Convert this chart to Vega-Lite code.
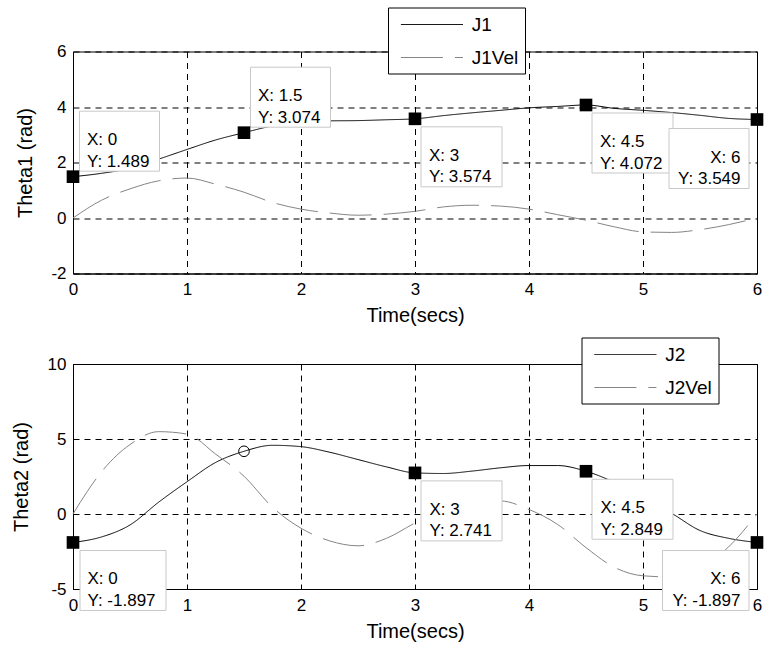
{
  "$schema": "https://vega.github.io/schema/vega-lite/v6.json",
  "background": "white",
  "padding": {"left": 11, "top": 6.5, "right": 5, "bottom": 5},
  "spacing": 9.5,
  "resolve": {"scale": {"color": "independent", "strokeDash": "independent"}, "legend": {"color": "independent", "strokeDash": "independent"}},
  "datasets": {
    "c1": [
      {"t": 0, "v": 1.489, "s": "J1"}, {"t": 0.25, "v": 1.61, "s": "J1"}, {"t": 0.5, "v": 1.79, "s": "J1"}, {"t": 0.75, "v": 2.12, "s": "J1"}, {"t": 1, "v": 2.47, "s": "J1"}, {"t": 1.25, "v": 2.81, "s": "J1"}, {"t": 1.5, "v": 3.074, "s": "J1"}, {"t": 1.75, "v": 3.32, "s": "J1"}, {"t": 2, "v": 3.47, "s": "J1"}, {"t": 2.25, "v": 3.5, "s": "J1"}, {"t": 2.5, "v": 3.51, "s": "J1"}, {"t": 2.75, "v": 3.54, "s": "J1"}, {"t": 3, "v": 3.574, "s": "J1"}, {"t": 3.25, "v": 3.69, "s": "J1"}, {"t": 3.5, "v": 3.79, "s": "J1"}, {"t": 3.75, "v": 3.88, "s": "J1"}, {"t": 4, "v": 3.97, "s": "J1"}, {"t": 4.25, "v": 4.02, "s": "J1"}, {"t": 4.5, "v": 4.072, "s": "J1"}, {"t": 4.75, "v": 3.95, "s": "J1"}, {"t": 5, "v": 3.88, "s": "J1"}, {"t": 5.25, "v": 3.8, "s": "J1"}, {"t": 5.5, "v": 3.7, "s": "J1"}, {"t": 5.75, "v": 3.59, "s": "J1"}, {"t": 6, "v": 3.549, "s": "J1"},
      {"t": 0, "v": 0, "s": "J1Vel"}, {"t": 0.25, "v": 0.64, "s": "J1Vel"}, {"t": 0.5, "v": 1.05, "s": "J1Vel"}, {"t": 0.75, "v": 1.34, "s": "J1Vel"}, {"t": 1, "v": 1.44, "s": "J1Vel"}, {"t": 1.25, "v": 1.22, "s": "J1Vel"}, {"t": 1.5, "v": 0.93, "s": "J1Vel"}, {"t": 1.75, "v": 0.56, "s": "J1Vel"}, {"t": 2, "v": 0.32, "s": "J1Vel"}, {"t": 2.25, "v": 0.18, "s": "J1Vel"}, {"t": 2.5, "v": 0.1, "s": "J1Vel"}, {"t": 2.75, "v": 0.14, "s": "J1Vel"}, {"t": 3, "v": 0.24, "s": "J1Vel"}, {"t": 3.25, "v": 0.4, "s": "J1Vel"}, {"t": 3.5, "v": 0.46, "s": "J1Vel"}, {"t": 3.75, "v": 0.43, "s": "J1Vel"}, {"t": 4, "v": 0.32, "s": "J1Vel"}, {"t": 4.25, "v": 0.12, "s": "J1Vel"}, {"t": 4.5, "v": -0.08, "s": "J1Vel"}, {"t": 4.75, "v": -0.32, "s": "J1Vel"}, {"t": 5, "v": -0.5, "s": "J1Vel"}, {"t": 5.25, "v": -0.52, "s": "J1Vel"}, {"t": 5.5, "v": -0.42, "s": "J1Vel"}, {"t": 5.75, "v": -0.24, "s": "J1Vel"}, {"t": 6, "v": 0, "s": "J1Vel"}
    ],
    "c2": [
      {"t": 0, "v": -1.897, "s": "J2"}, {"t": 0.25, "v": -1.53, "s": "J2"}, {"t": 0.5, "v": -0.73, "s": "J2"}, {"t": 0.75, "v": 0.78, "s": "J2"}, {"t": 1, "v": 2.15, "s": "J2"}, {"t": 1.25, "v": 3.43, "s": "J2"}, {"t": 1.5, "v": 4.18, "s": "J2"}, {"t": 1.75, "v": 4.58, "s": "J2"}, {"t": 2, "v": 4.49, "s": "J2"}, {"t": 2.25, "v": 4.12, "s": "J2"}, {"t": 2.5, "v": 3.63, "s": "J2"}, {"t": 2.75, "v": 3.14, "s": "J2"}, {"t": 3, "v": 2.741, "s": "J2"}, {"t": 3.25, "v": 2.7, "s": "J2"}, {"t": 3.5, "v": 2.86, "s": "J2"}, {"t": 3.75, "v": 3.08, "s": "J2"}, {"t": 4, "v": 3.23, "s": "J2"}, {"t": 4.25, "v": 3.23, "s": "J2"}, {"t": 4.5, "v": 2.849, "s": "J2"}, {"t": 4.75, "v": 2.1, "s": "J2"}, {"t": 5, "v": 1.05, "s": "J2"}, {"t": 5.25, "v": 0.05, "s": "J2"}, {"t": 5.5, "v": -1.1, "s": "J2"}, {"t": 5.75, "v": -1.62, "s": "J2"}, {"t": 6, "v": -1.897, "s": "J2"},
      {"t": 0, "v": 0, "s": "J2Vel"}, {"t": 0.125, "v": 1.5, "s": "J2Vel"}, {"t": 0.25, "v": 2.81, "s": "J2Vel"}, {"t": 0.5, "v": 4.63, "s": "J2Vel"}, {"t": 0.75, "v": 5.49, "s": "J2Vel"}, {"t": 1, "v": 5.33, "s": "J2Vel"}, {"t": 1.25, "v": 4.0, "s": "J2Vel"}, {"t": 1.5, "v": 2.52, "s": "J2Vel"}, {"t": 1.75, "v": 0.45, "s": "J2Vel"}, {"t": 2, "v": -0.95, "s": "J2Vel"}, {"t": 2.25, "v": -1.79, "s": "J2Vel"}, {"t": 2.5, "v": -2.12, "s": "J2Vel"}, {"t": 2.75, "v": -1.62, "s": "J2Vel"}, {"t": 3, "v": -0.6, "s": "J2Vel"}, {"t": 3.25, "v": 0.3, "s": "J2Vel"}, {"t": 3.5, "v": 0.75, "s": "J2Vel"}, {"t": 3.75, "v": 0.87, "s": "J2Vel"}, {"t": 4, "v": 0.3, "s": "J2Vel"}, {"t": 4.25, "v": -0.69, "s": "J2Vel"}, {"t": 4.5, "v": -2.24, "s": "J2Vel"}, {"t": 4.75, "v": -3.56, "s": "J2Vel"}, {"t": 5, "v": -4.12, "s": "J2Vel"}, {"t": 5.25, "v": -4.2, "s": "J2Vel"}, {"t": 5.5, "v": -3.6, "s": "J2Vel"}, {"t": 5.75, "v": -2.2, "s": "J2Vel"}, {"t": 6, "v": 0, "s": "J2Vel"}
    ],
    "tips1": [
      {"t": 0, "v": 1.489}, {"t": 1.5, "v": 3.074}, {"t": 3, "v": 3.574}, {"t": 4.5, "v": 4.072}, {"t": 6, "v": 3.549}
    ],
    "tips2": [
      {"t": 0, "v": -1.897}, {"t": 3, "v": 2.741}, {"t": 4.5, "v": 2.849}, {"t": 6, "v": -1.897}
    ],
    "cursor2": [
      {"t": 1.5, "v": 4.18}
    ]
  },
  "vconcat": [
    {
      "width": 684,
      "height": 222,
      "layer": [
        {
          "data": {"name": "c1"},
          "mark": {"type": "line", "strokeWidth": 1, "interpolate": "monotone"},
          "encoding": {
            "x": {"field": "t", "type": "quantitative", "scale": {"domain": [0, 6], "nice": false, "zero": false}, "axis": {"values": [0, 1, 2, 3, 4, 5, 6], "title": "Time(secs)", "labelFlush": false, "labelOverlap": false, "labelExpr": "'' + datum.value"}},
            "y": {"field": "v", "type": "quantitative", "scale": {"domain": [-2, 6], "nice": false, "zero": false}, "axis": {"values": [-2, 0, 2, 4, 6], "title": "Theta1 (rad)", "labelFlush": false, "labelOverlap": false, "labelExpr": "'' + datum.value"}},
            "color": {"field": "s", "type": "nominal", "scale": {"domain": ["J1", "J1Vel"], "range": ["#000000", "#858585"]}, "legend": {"orient": "none", "legendX": 315, "legendY": -44, "title": null}},
            "strokeDash": {"field": "s", "type": "nominal", "scale": {"domain": ["J1", "J1Vel"], "range": [[1, 0], [42, 12]]}, "legend": {"orient": "none", "legendX": 315, "legendY": -44, "title": null}}
          }
        },
        {
          "data": {"name": "tips1"},
          "transform": [{"filter": "datum.t <= 1.5"}],
          "mark": {"type": "rect", "fill": "white", "stroke": "#c8c8c8", "strokeWidth": 1, "xOffset": 6.5, "x2Offset": 86.5, "yOffset": -65.5, "y2Offset": -5.5},
          "encoding": {"x": {"field": "t", "type": "quantitative"}, "x2": {"field": "t"}, "y": {"field": "v", "type": "quantitative"}, "y2": {"field": "v"}}
        },
        {
          "data": {"name": "tips1"},
          "transform": [{"filter": "datum.t == 3 || datum.t == 4.5"}],
          "mark": {"type": "rect", "fill": "white", "stroke": "#c8c8c8", "strokeWidth": 1, "xOffset": 6, "x2Offset": 87, "yOffset": 8, "y2Offset": 68},
          "encoding": {"x": {"field": "t", "type": "quantitative"}, "x2": {"field": "t"}, "y": {"field": "v", "type": "quantitative"}, "y2": {"field": "v"}}
        },
        {
          "data": {"name": "tips1"},
          "transform": [{"filter": "datum.t == 6"}],
          "mark": {"type": "rect", "fill": "white", "stroke": "#c8c8c8", "strokeWidth": 1, "xOffset": -88, "x2Offset": -8, "yOffset": 9, "y2Offset": 69},
          "encoding": {"x": {"field": "t", "type": "quantitative"}, "x2": {"field": "t"}, "y": {"field": "v", "type": "quantitative"}, "y2": {"field": "v"}}
        },
        {
          "data": {"name": "tips1"},
          "transform": [{"filter": "datum.t <= 1.5"}, {"calculate": "'X: ' + datum.t + '\\n' + 'Y: ' + datum.v", "as": "lab"}],
          "mark": {"type": "text", "align": "left", "baseline": "middle", "dx": 14, "dy": -36.5, "fontSize": 17, "lineHeight": 21.5, "lineBreak": "\n", "color": "black"},
          "encoding": {"x": {"field": "t", "type": "quantitative"}, "y": {"field": "v", "type": "quantitative"}, "text": {"field": "lab", "type": "nominal"}}
        },
        {
          "data": {"name": "tips1"},
          "transform": [{"filter": "datum.t == 3 || datum.t == 4.5"}, {"calculate": "'X: ' + datum.t + '\\n' + 'Y: ' + datum.v", "as": "lab"}],
          "mark": {"type": "text", "align": "left", "baseline": "middle", "dx": 14, "dy": 37, "fontSize": 17, "lineHeight": 21.5, "lineBreak": "\n", "color": "black"},
          "encoding": {"x": {"field": "t", "type": "quantitative"}, "y": {"field": "v", "type": "quantitative"}, "text": {"field": "lab", "type": "nominal"}}
        },
        {
          "data": {"name": "tips1"},
          "transform": [{"filter": "datum.t == 6"}, {"calculate": "'X: ' + datum.t + '\\n' + 'Y: ' + datum.v", "as": "lab"}],
          "mark": {"type": "text", "align": "right", "baseline": "middle", "dx": -16.5, "dy": 38, "fontSize": 17, "lineHeight": 21.5, "lineBreak": "\n", "color": "black"},
          "encoding": {"x": {"field": "t", "type": "quantitative"}, "y": {"field": "v", "type": "quantitative"}, "text": {"field": "lab", "type": "nominal"}}
        },
        {
          "data": {"name": "tips1"},
          "mark": {"type": "point", "shape": "square", "filled": true, "color": "black", "size": 160, "opacity": 1},
          "encoding": {"x": {"field": "t", "type": "quantitative"}, "y": {"field": "v", "type": "quantitative"}}
        }
      ]
    },
    {
      "width": 684,
      "height": 225,
      "layer": [
        {
          "data": {"name": "c2"},
          "mark": {"type": "line", "strokeWidth": 1, "interpolate": "monotone"},
          "encoding": {
            "x": {"field": "t", "type": "quantitative", "scale": {"domain": [0, 6], "nice": false, "zero": false}, "axis": {"values": [0, 1, 2, 3, 4, 5, 6], "title": "Time(secs)", "labelFlush": false, "labelOverlap": false, "labelExpr": "'' + datum.value"}},
            "y": {"field": "v", "type": "quantitative", "scale": {"domain": [-5, 10], "nice": false, "zero": false}, "axis": {"values": [-5, 0, 5, 10], "title": "Theta2 (rad)", "labelFlush": false, "labelOverlap": false, "labelExpr": "'' + datum.value"}},
            "color": {"field": "s", "type": "nominal", "scale": {"domain": ["J2", "J2Vel"], "range": ["#000000", "#858585"]}, "legend": {"orient": "none", "legendX": 508.5, "legendY": -26.5, "title": null}},
            "strokeDash": {"field": "s", "type": "nominal", "scale": {"domain": ["J2", "J2Vel"], "range": [[1, 0], [42, 12]]}, "legend": {"orient": "none", "legendX": 508.5, "legendY": -26.5, "title": null}}
          }
        },
        {
          "data": {"name": "tips2"},
          "transform": [{"filter": "datum.t == 0"}],
          "mark": {"type": "rect", "fill": "white", "stroke": "#c8c8c8", "strokeWidth": 1, "xOffset": 7, "x2Offset": 93, "yOffset": 8, "y2Offset": 68},
          "encoding": {"x": {"field": "t", "type": "quantitative"}, "x2": {"field": "t"}, "y": {"field": "v", "type": "quantitative"}, "y2": {"field": "v"}}
        },
        {
          "data": {"name": "tips2"},
          "transform": [{"filter": "datum.t == 3 || datum.t == 4.5"}],
          "mark": {"type": "rect", "fill": "white", "stroke": "#c8c8c8", "strokeWidth": 1, "xOffset": 6, "x2Offset": 87, "yOffset": 8, "y2Offset": 68},
          "encoding": {"x": {"field": "t", "type": "quantitative"}, "x2": {"field": "t"}, "y": {"field": "v", "type": "quantitative"}, "y2": {"field": "v"}}
        },
        {
          "data": {"name": "tips2"},
          "transform": [{"filter": "datum.t == 6"}],
          "mark": {"type": "rect", "fill": "white", "stroke": "#c8c8c8", "strokeWidth": 1, "xOffset": -94.5, "x2Offset": -8, "yOffset": 8, "y2Offset": 68},
          "encoding": {"x": {"field": "t", "type": "quantitative"}, "x2": {"field": "t"}, "y": {"field": "v", "type": "quantitative"}, "y2": {"field": "v"}}
        },
        {
          "data": {"name": "tips2"},
          "transform": [{"filter": "datum.t < 6"}, {"calculate": "'X: ' + datum.t + '\\n' + 'Y: ' + datum.v", "as": "lab"}],
          "mark": {"type": "text", "align": "left", "baseline": "middle", "dx": 14.5, "dy": 37, "fontSize": 17, "lineHeight": 21.5, "lineBreak": "\n", "color": "black"},
          "encoding": {"x": {"field": "t", "type": "quantitative"}, "y": {"field": "v", "type": "quantitative"}, "text": {"field": "lab", "type": "nominal"}}
        },
        {
          "data": {"name": "tips2"},
          "transform": [{"filter": "datum.t == 6"}, {"calculate": "'X: ' + datum.t + '\\n' + 'Y: ' + datum.v", "as": "lab"}],
          "mark": {"type": "text", "align": "right", "baseline": "middle", "dx": -16.5, "dy": 37, "fontSize": 17, "lineHeight": 21.5, "lineBreak": "\n", "color": "black"},
          "encoding": {"x": {"field": "t", "type": "quantitative"}, "y": {"field": "v", "type": "quantitative"}, "text": {"field": "lab", "type": "nominal"}}
        },
        {
          "data": {"name": "tips2"},
          "mark": {"type": "point", "shape": "square", "filled": true, "color": "black", "size": 160, "opacity": 1},
          "encoding": {"x": {"field": "t", "type": "quantitative"}, "y": {"field": "v", "type": "quantitative"}}
        },
        {
          "data": {"name": "cursor2"},
          "mark": {"type": "point", "shape": "circle", "filled": false, "color": "black", "strokeWidth": 1, "size": 113, "opacity": 1},
          "encoding": {"x": {"field": "t", "type": "quantitative"}, "y": {"field": "v", "type": "quantitative"}}
        }
      ]
    }
  ],
  "config": {
    "font": "Liberation Sans",
    "view": {"stroke": "black", "strokeWidth": 1},
    "axis": {
      "labelFont": "Liberation Sans",
      "titleFont": "Liberation Sans",
      "labelFontSize": 17,
      "titleFontSize": 20,
      "titleFontWeight": "normal",
      "labelColor": "black",
      "titleColor": "black",
      "domainColor": "black",
      "domainWidth": 1,
      "tickSize": 0,
      "gridColor": "black",
      "gridDash": [6, 5],
      "gridOpacity": 1,
      "gridWidth": 1,
      "labelPadding": 8
    },
    "axisX": {"titlePadding": 8},
    "axisY": {"titlePadding": 15.5, "labelPadding": 7},
    "legend": {
      "fillColor": "white",
      "strokeColor": "black",
      "padding": 6,
      "labelFont": "Liberation Sans",
      "labelFontSize": 19,
      "labelColor": "black",
      "symbolType": "M-3,0H3",
      "symbolSize": 427,
      "symbolStrokeWidth": 1,
      "symbolOffset": 26.9,
      "labelOffset": 28.8,
      "rowPadding": 12
    }
  }
}
